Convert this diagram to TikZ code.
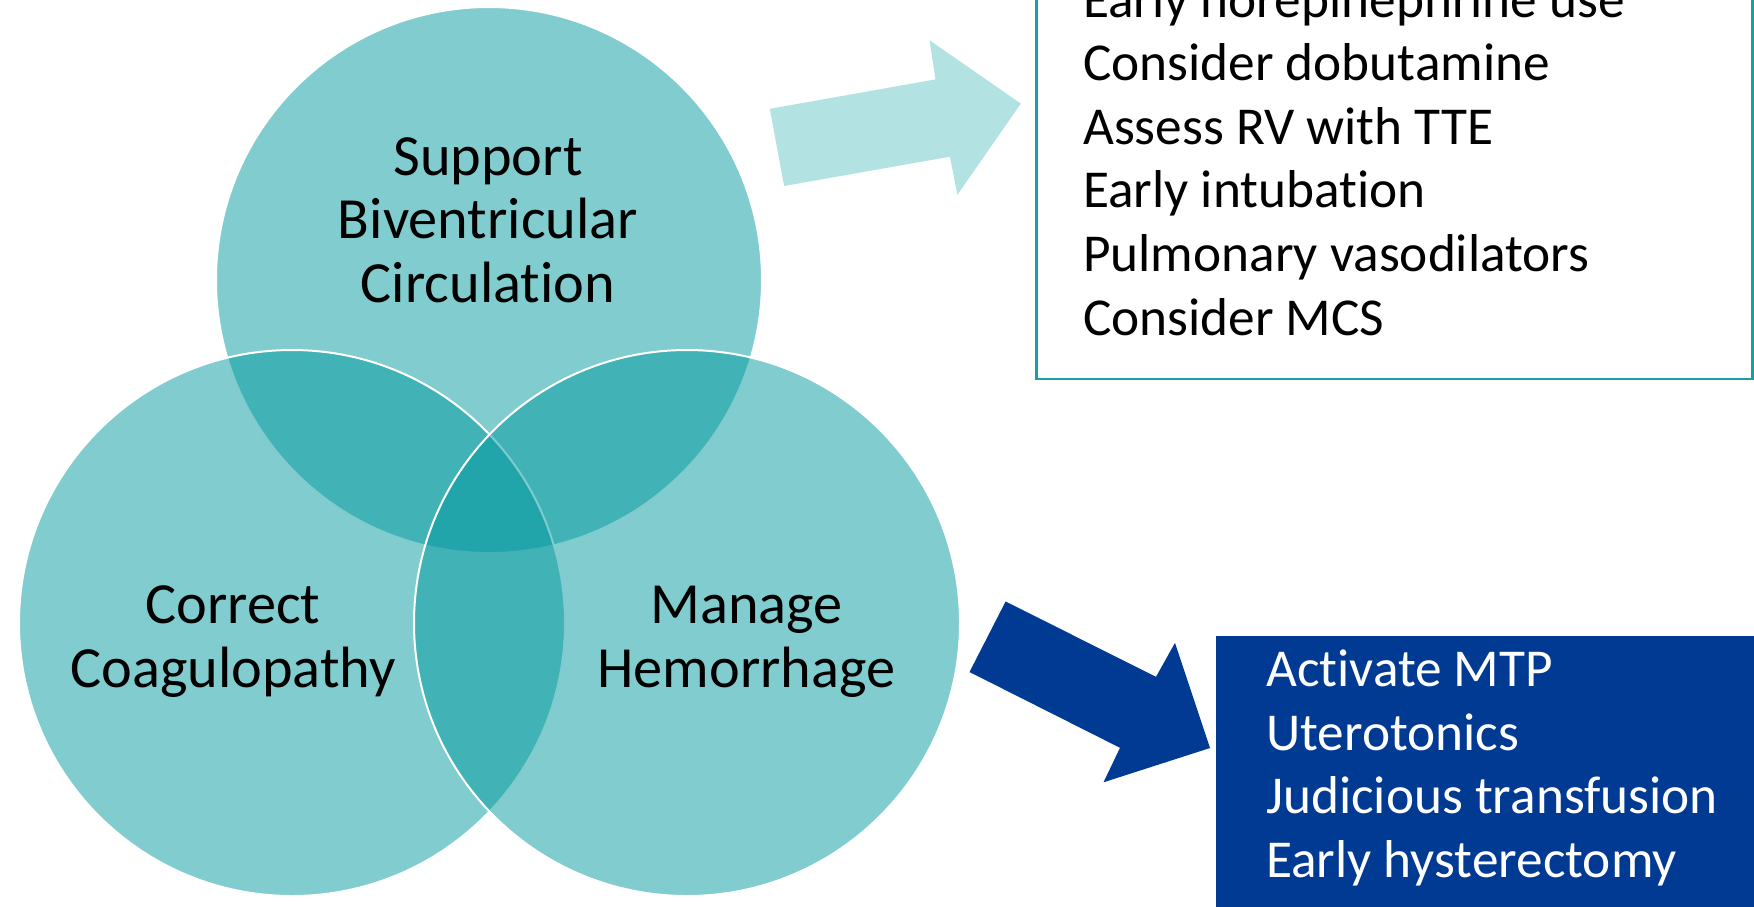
\documentclass[tikz,border=0pt]{standalone}
\usepackage{fontspec}
\setmainfont{Carlito}[Ligatures=NoCommon]
\definecolor{vennteal}{RGB}{3,153,158}
\definecolor{paleteal}{RGB}{178,226,226}
\definecolor{frameteal}{RGB}{26,158,166}
\definecolor{deepblue}{RGB}{0,58,147}
\tikzset{
  venn/.style={circle, inner sep=0pt, minimum size=546pt, fill=vennteal,
    fill opacity=0.5, draw=white, draw opacity=1, line width=2pt},
  vennlabel/.style={anchor=base, inner sep=0pt, text=black,
    font=\fontsize{58.3}{63.5}\selectfont},
  itemline/.style={anchor=base west, inner sep=0pt,
    font=\fontsize{53.3}{63.6}\selectfont},
}
\begin{document}
\begin{tikzpicture}[x=1pt,y=-1pt]
\useasboundingbox (0,0) rectangle (1754,906);

% three overlapping circles
\node[venn] (cTop)   at (489,280) {};
\node[venn] (cLeft)  at (292,623) {};
\node[venn] (cRight) at (687,623) {};

% circle captions
\node[vennlabel] (tTop1) at (488,175) {Support};
\node[vennlabel] (tTop2) at (488,238.5) {Biventricular};
\node[vennlabel] (tTop3) at (488,302) {Circulation};
\node[vennlabel] (tLeft1) at (233,623.5) {Correct};
\node[vennlabel] (tLeft2) at (233,687.5) {Coagulopathy};
\node[vennlabel] (tRight1) at (746.5,623) {Manage};
\node[vennlabel] (tRight2) at (746.5,687) {Hemorrhage};

% circulation measures
\node[draw=frameteal, line width=2.5pt, inner sep=0pt, minimum width=716pt,
      minimum height=420pt, anchor=south west] (circBox) at (1035,380) {};
\node[itemline] (c1) at (1083,17) {Early norepinephrine use};
\node[itemline] (c2) at (1083,80.6) {Consider dobutamine};
\node[itemline] (c3) at (1083,144.2) {Assess RV with TTE};
\node[itemline] (c4) at (1083,207.8) {Early intubation};
\node[itemline] (c5) at (1083,271.4) {Pulmonary vasodilators};
\node[itemline] (c6) at (1083,335) {Consider MCS};

% hemorrhage measures
\node[fill=deepblue, inner sep=0pt, minimum width=540pt, minimum height=272pt,
      anchor=north west] (hemBox) at (1216,636) {};
\node[itemline, text=white] (h1) at (1266,686.5) {Activate MTP};
\node[itemline, text=white] (h2) at (1266,750) {Uterotonics};
\node[itemline, text=white] (h3) at (1266,813.5) {Judicious transfusion};
\node[itemline, text=white] (h4) at (1266,877) {Early hysterectomy};

% block arrows
\fill[paleteal] (769.8,108.8) -- (935.5,79.4) -- (929.5,40.2) -- (1020.8,103.6)
  -- (957.4,194.8) -- (949.9,156.7) -- (784.1,186) -- cycle;
\fill[deepblue] (1005.6,601.5) -- (1156,676.8) -- (1175,642.8) -- (1210,748)
  -- (1103.5,782.3) -- (1120,747.8) -- (969.5,672) -- cycle;
\end{tikzpicture}
\end{document}
